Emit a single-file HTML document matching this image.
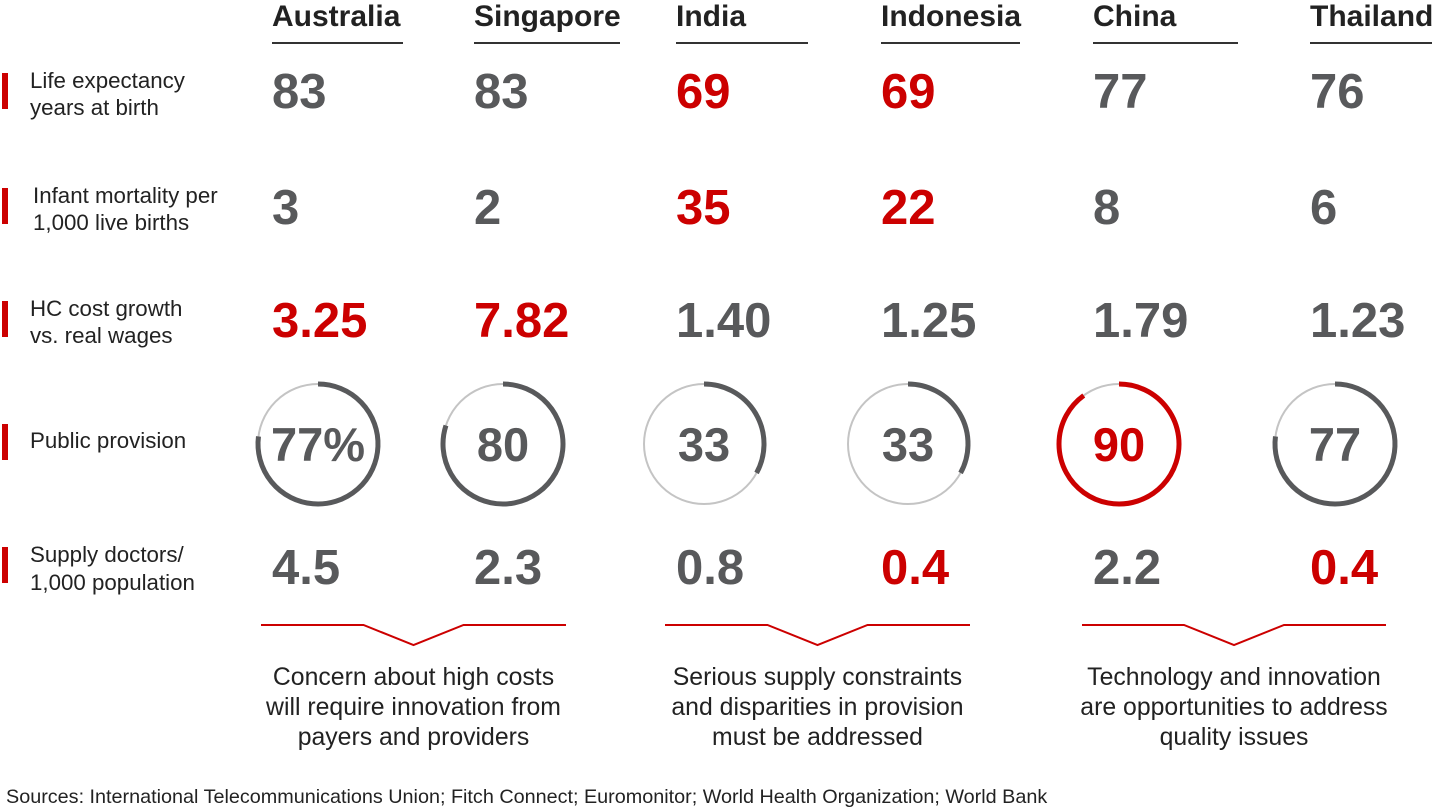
<!DOCTYPE html>
<html><head><meta charset="utf-8"><style>
body{margin:0;width:1440px;height:810px;background:#fff;font-family:"Liberation Sans",Arial,sans-serif;overflow:hidden}
svg{position:absolute;left:0;top:0}
</style></head><body>
<svg id="c" width="1440" height="810"></svg>
<script>
const countries=["Australia","Singapore","India","Indonesia","China","Thailand"];
const lifeExp=["83","83","69","69","77","76"];
const lifeRed=[0,0,1,1,0,0];
const infant=["3","2","35","22","8","6"];
const infantRed=[0,0,1,1,0,0];
const hcCost=["3.25","7.82","1.40","1.25","1.79","1.23"];
const hcRed=[1,1,0,0,0,0];
const publicProv=[77,80,33,33,90,77];
const publicLabels=["77%","80","33","33","90","77"];
const publicRed=[0,0,0,0,1,0];
const doctors=["4.5","2.3","0.8","0.4","2.2","0.4"];
const doctorsRed=[0,0,0,1,0,1];
const rowLabels=[["Life expectancy","years at birth"],["Infant mortality per","1,000 live births"],["HC cost growth","vs. real wages"],["Public provision"],["Supply doctors/","1,000 population"]];
const captions=[["Concern about high costs","will require innovation from","payers and providers"],["Serious supply constraints","and disparities in provision","must be addressed"],["Technology and innovation","are opportunities to address","quality issues"]];

const NS="http://www.w3.org/2000/svg";
const svg=document.getElementById('c');
const GREY="#58595b",RED="#cc0000",LIGHT="#c4c4c4";
function el(tag,attrs,parent){const e=document.createElementNS(NS,tag);for(const k in attrs)e.setAttribute(k,attrs[k]);(parent||svg).appendChild(e);return e;}
const colX=[272,474,676,881,1093,1310];
const colW=[131,146,132,139,145,122];
const donutCX=[318,503,704,908,1119,1335];

countries.forEach((c,i)=>{
  const t=el('text',{x:colX[i],y:26,'font-size':30,'font-weight':'bold',fill:'#222'});t.textContent=c;
  
  
  const l=el('line',{x1:colX[i],x2:colX[i]+colW[i],y1:43,y2:43,stroke:'#333','stroke-width':2});
  
  
});

const rowY=[[81,108],[196,223],[309,336],[441],[555,583]];
const barY=[73,188,301,424,547];
rowLabels.forEach((lines,r)=>{
  const b=el('rect',{x:2,y:barY[r],width:6,height:36,fill:RED});
  
  
  lines.forEach((s,j)=>{
    const t=el('text',{x:r==1?33:30,y:rowY[r][j]+7,'font-size':22.3,fill:'#222'});t.textContent=s;
    
    
  });
});

function valueRow(vals,reds,y,name){
  vals.forEach((v,i)=>{
    const t=el('text',{x:colX[i],y:y,'font-size':49,'font-weight':'bold',fill:reds[i]?RED:GREY});t.textContent=v;
    
    
  });
}
valueRow(lifeExp,lifeRed,108,'life-expectancy');
valueRow(infant,infantRed,224,'infant-mortality');
valueRow(hcCost,hcRed,337,'hc-cost');
valueRow(doctors,doctorsRed,584,'doctors');

const R=60,CY=444;
publicProv.forEach((v,i)=>{
  const cx=donutCX[i];
  const g=el('circle',{cx:cx,cy:CY,r:R,fill:'none',stroke:LIGHT,'stroke-width':2});
  
  
  const a=v/100*2*Math.PI;
  const x2=cx+R*Math.sin(a),y2=CY-R*Math.cos(a);
  const p=el('path',{d:`M${cx},${CY-R} A${R},${R} 0 ${v>50?1:0} 1 ${x2.toFixed(2)},${y2.toFixed(2)}`,fill:'none',stroke:publicRed[i]?RED:GREY,'stroke-width':5});
  
  
  const t=el('text',{x:cx,y:461,'font-size':47,'font-weight':'bold','text-anchor':'middle',fill:publicRed[i]?RED:GREY});t.textContent=publicLabels[i];
  
  
});

const brackets=[[261,566],[665,970],[1082,1386]];
brackets.forEach((b,k)=>{
  const m=(b[0]+b[1])/2;
  const p=el('polyline',{points:`${b[0]},625 ${m-50},625 ${m},645 ${m+50},625 ${b[1]},625`,fill:'none',stroke:RED,'stroke-width':2});
  
  
  captions[k].forEach((s,j)=>{
    const t=el('text',{x:m,y:685+30*j,'font-size':24.8,'text-anchor':'middle',fill:'#222'});t.textContent=s;
    
    
  });
});

const src=el('text',{x:6,y:803,'font-size':19.8,fill:'#222'});
src.textContent="Sources: International Telecommunications Union; Fitch Connect; Euromonitor; World Health Organization; World Bank";


</script>
</body></html>
